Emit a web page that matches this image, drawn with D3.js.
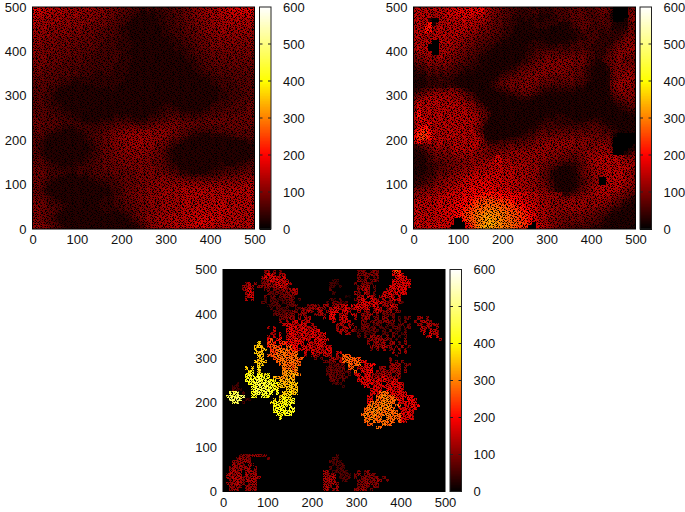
<!DOCTYPE html>
<html>
<head>
<meta charset="utf-8">
<script src="https://cdn.jsdelivr.net/npm/d3@7"></script>
<style>
  body { margin: 0; background: #fff; }
  text { font-family: "Liberation Sans", Arial, sans-serif; font-size: 13px; fill: #111; }
</style>
</head>
<body>
<div id="chart"></div>
<script>
// values, one char per cell, top row is y = 500
// base 36 digit * step gives the value, "." is empty, spaces only help counting
const ticks = [0, 100, 200, 300, 400, 500];
const barTicks = [0, 100, 200, 300, 400, 500, 600];
const paletteStops = [0, 200, 400, 600];
const paletteColors = ["#000000", "#ff0000", "#ffff00", "#ffffff"];

const gridA = [
"dcbbaa9a99 9889898787 7666555443 3434344455 5667788999 aabbccdcdc",
"cbbaa99a98 9898878777 6665554432 2323344455 5667788999 9aabbbcbcb",
"baa9a89898 8988787777 6655544331 1223334445 5667788899 9aaabababa",
"aa98989988 8878787766 6655443210 0122334445 5666778889 99aa9a9a9a",
"a989898888 7878776676 6554432100 0012334445 5566777889 999a9a9a99",
"9989888787 8777676665 5544321000 0001233444 5566677888 9899999899",
"9888878787 7776766655 5544332110 0012233444 5556677888 8989898988",
"9887877787 7676666555 4544332211 1112233344 4556667778 8888888888",
"8887777676 7666656555 4444332221 1111122334 4455666777 8787888878",
"8877777667 6666565554 4443333221 1000112333 4455566677 7787877787",
"8777676676 6656565544 4443333211 0000012233 3445566677 7777777777",
"8776776666 6565555544 4443332210 0000011233 3344556667 6777677767",
"8776767666 5655555444 4444332221 0000001122 3344555666 6667676776",
"7777666665 6555554444 4444333221 1100000112 2334455566 6666766766",
"7767666655 5555544444 4443333222 1100000011 2233445556 6566666666",
"7676665655 5554544444 4433332222 1110000001 1223345556 5656666666",
"6766565555 5454444444 4433332222 2110000000 1123344555 5556565656",
"6665655555 4544444334 4333332222 2111000000 0112334445 5555555656",
"6656555455 4444443333 4333322222 2111100000 0012233344 4555555555",
"6565555444 4333333333 3333322222 2211100000 0001122334 4444555555",
"5655555443 3223333333 3333222221 1111100000 0000112233 4444455555",
"5555544332 1112222333 3322222110 0111110000 0000011223 3444445555",
"5555443221 0001112222 2322221100 0001111000 0000001122 3344445555",
"5554432100 0000111222 2222211000 0000110000 0000000112 3334444555",
"5554432100 0000011112 2222210000 0000111100 0000000122 3334445555",
"5554433210 0000000112 2222210000 0001122211 0000001223 3444455556",
"5555433321 1000000011 2222110000 0012233322 1100112234 4444555566",
"5555444332 2110000001 1222211000 0122334433 2211223344 4455555566",
"5555544433 3211000001 1222222111 1223344444 3333334445 5555556666",
"6555554443 3321100112 2233333222 2334445555 4444445555 5566666666",
"6655555444 4332222233 3344444333 3445555666 5555555666 6666666666",
"6665555544 4443333344 4455555544 4556667776 6666656666 6656666666",
"6655554433 3344444445 5566667766 6677777777 6665555555 5566666665",
"5655443322 2233444455 6677787888 8888888776 5554444445 5555565555",
"5554322111 1223344556 6778888998 9988887766 5543322233 3344455555",
"5543211000 0122344556 6778899999 9988877655 4322211122 2222334445",
"5432100000 0012334556 6778889999 9888776544 3211000011 1111112233",
"5432100000 0001233456 6778888999 8887765432 1000000000 0000001122",
"5432100000 0001223456 6677888888 8877654321 0000000000 0000000112",
"5432100000 0012234456 6677788888 8776654321 0000000000 1000000112",
"5543211000 0112334456 6677777888 7776654321 0000000001 1100011223",
"5554322111 1223344556 6677777777 7766654321 0000000011 2211122334",
"6555433222 2333444556 6667777777 7766654432 1000000012 3322233445",
"6655444333 3344445556 6666677777 7776665443 2110001123 3344445555",
"6665544443 3344445555 5666666677 7777766554 3322222334 4455556666",
"6665544332 2233344455 5556666677 7777777665 5444444445 5566667777",
"6655433211 1122233444 4455666677 7777888777 7666666666 6777778888",
"6654321000 0011122333 4445566667 7788888888 8888888888 8888889999",
"6654210000 0000111223 3445566677 7788888899 9999999999 9999999aaa",
"6543210000 0000011122 2344566677 7888899999 aaaaaaaaaa 9a9aaaaaaa",
"6654321100 0000011122 2344566777 7888899999 aaaaaaaaaa aaaaaaaaaa",
"6655432211 1000111223 3345566777 8888999999 aaaaaaaaaa aaaaaaaaaa",
"7665543322 2111122233 3344566677 7888899999 aaaaaaaaab baaaaaaaaa",
"7766544433 2211122233 3344555667 7788899999 aaaaaabaab bbaaaaaaaa",
"7766554432 1110112233 3334455667 7788899999 aaaabbbbab bbbaaaaaaa",
"7766554321 0000011223 3223344567 7788899999 aaabbbbbbb babaaaaaaa",
"7766543210 0000001122 2112234567 7889999aaa aabbbbcbbb bbaaaaaaaa",
"7766543210 0000011221 1000123456 7889999aaa aabbbccccb bbaaaaaaaa",
"8776554321 0000112210 0000012345 6788999aaa aabbccccbb baaaaaaaaa",
"8877655432 1111222100 0000001234 6788999aaa aaabbbcbba aaaaaaaaaa"
];

const gridB = [
"9a9a9a9a9a bbcbccbcd9 8766544433 3434333344 4455554445 6654....56",
"9a9a989a9b bbcbccbcc9 8765544433 3344333344 4455555445 5653....66",
"a9a9a899ab ababbbaaa8 7665544333 3333222334 4455555444 5542....67",
"9a9a3..a9a 9aabaa9a98 7655443322 3232233334 3445555544 5543...067",
"9a9ae1999a 9a9a9a9887 6655443322 2233333332 2234555544 4544210156",
"a99ee99a9a a9a9a98877 6554433222 2223332111 2234455544 4443212366",
"9a9ed8a9a9 9a9a988776 6554433221 2222211100 1223344444 3343323466",
"9a9a89a9a9 9a98877665 5544332211 1122110000 0122334444 3333334566",
"9a989a9a98 9988776655 5443322111 1111210001 1122333444 3333345677",
"989a9..a9a 9887766554 4433221111 1233322112 2233444443 3333456777",
"8a9a...989 8877665544 3322111112 2333333334 3344444433 3334567778",
"8a9a...a98 8776655443 3221110011 2334444444 4444454433 3345677788",
"78989..898 8766554433 2211000112 3344555555 5555555443 3345677777",
"6778878987 7665544332 2100000122 3445566666 6666665543 3456677766",
"5667877787 6655443322 1100001123 3456667777 7776665432 2456676666",
"4556767676 5544433322 1110012234 4566677777 7776665432 1246676766",
"3445656565 5443333221 1111223345 5666777777 7766654321 0136677677",
"2334545454 4433222211 1122334456 6667777777 7666554321 0125677787",
"1223434344 3322211100 1123445566 6777776666 6665554321 0125678887",
"1123333433 3221100001 1234556666 7777666655 6665544321 0125678888",
"1122333333 3221000011 2345566667 7766655555 5554443210 0126788887",
"1123343334 3321000001 2344556677 7765544444 4444332110 0126778887",
"2345566667 7654320000 1233445566 6655433333 3333221100 0125678877",
"4567788888 8876543100 0112233445 5543322222 2222110000 0124567777",
"6789a98a99 8887654310 0011122233 3322111111 1111100000 0123456676",
"7a98a9a989 9988765421 0000011112 2111000011 1111000000 0112345566",
"8b9a9a9a9a 9a99887542 1000000011 1100000111 1110000000 0011234455",
"7ca9a9a9a9 a9a9987654 2100000000 0000001111 1111000001 1000123344",
"9da9a9a9a9 9a9a998765 4210000000 0000111222 1100000112 1100012233",
"ae9a9a9a9a a9a9a98875 3100000010 0001122233 3221111222 2110001122",
"9bca9a9a9a 9a9a9a9864 2000000100 0112233333 3332222333 3211000011",
"8a9bc9a9a9 a9a9a99863 1000001000 1122334433 3333334444 3322100000",
"7cdea8a9a9 9a9a998752 0000000000 1223444444 4444444455 4433210000",
"beffda9a9a a9a99a8742 0000000012 2334554555 5555555555 5444321000",
"cfgfea8a9a 9a9a99a862 1000011223 3445665666 6666666666 55541.....",
"dfgfdb9a9a a9a9a9a973 2112233344 4556776777 7777677766 6665......",
"ada9a89a89 9a9a9a9a85 3334444455 5667777888 8887777777 7765......",
"3456789898 9a9a9aa976 5555566666 6677888888 8887777777 8876.....1",
"2345678787 9a9a9a9887 6666667777 7788888887 7777767778 8887....12",
"2234567676 8989898776 6677778888 8888887777 7766677888 8988...135",
"1223456666 7788888877 77bb888888 8888887776 6655667889 a9a9a89668",
"1123455566 6777788888 89cb998888 8888777665 5554567899 a9a9a99887",
"1123344556 6677788899 9aba999999 8887766654 3333456889 9a9a9a9988",
"1122344556 6777889999 aaaaa9a999 9888765432 1122456789 9a9a9a9a98",
"1223345566 7788899aaa aabaaa9a99 9887654321 0112456789 89a9a9a987",
"2233445667 7889aaabbb bbbaaaa999 9887654321 0012356788 89a9a9a987",
"2334456778 889aabbbbb bbbbaaaa99 9887654310 0012345678 ..a9a9a987",
"3344567788 89aabbbccc cbbbbaaa99 9887765420 0012345678 ..9a9a9887",
"4456678889 9aabbccccc ccbbbaaa99 9887765421 0012356789 9a9a9a9877",
"6677788899 aabbccddcc ccbbbbaa99 9888776532 1123456789 9a9a998766",
"7788899aab bbbcccddee eeedddcccb baa9988877 3345677889 9a98877654",
"8899a9aabb bbccddeeff ffeeedddcb baa9988887 6677778889 9988766543",
"9a9a9aabbb bccddefggh hhgggfeddc bba9988888 8888888888 8877654432",
"9aa9aaabbb bcddefghhi iiihhggfed cbba998887 8888888888 7766543321",
"aa9aaabbbc ccdefghiij jjjiihggfe dcba998887 8888887776 6654332211",
"aaa9aaabbb cdefghijjk kkkjjihhgf edba998877 7777777665 5543221110",
"aaaaaaabbb cdefghijkl lkkjjihhgf fdca998877 6666666655 4432211100",
"aaaaaaabbb b..eghijkl mlkkjiihgf fdba988776 6666665554 4322111000",
"abaaaabbbb a...dghjkl mmlkjjiihg fe.ba98776 5555555444 3321110000",
"bbaabbbbba ....cfhjlm mlkkjjihgf f..ba98766 5544444433 3211000000"
];

const gridC = [
".......... ...67.6.5. .......... .......... ...565.565 ....cfc...",
".......... ...7a97.77 .......... .......... ...6565656 ....a9c9..",
".......... ..7a89a879 .......... .......... ...5.56.45 .....9a9a.",
".......... ..567a8a98 7......... .....33... ...656.564 ....a9a9a9",
".......68. 6.56767a98 a7........ ....332... ..5.5654.. ....9a8a9a",
"......7687 .6667678a8 6......... ....33.3.. ...5767.5. ...a9aa9a8",
"......68a7 ...55.5657 6787...... ....4..... ...6786.5. ..78a9a9a.",
".......7a8 ....544545 6577...... .....3.... ..75.86.5. .98a7a8a9.",
".......78a ...5.45.55 564....... .........2 1..78.986. 798a7.9...",
".......8.7 ...3.44334 455.4..... ....43.4.. ..57a9.a87 .8.7a89...",
".......... ..44.444.3 454....... ...4.55434 ...8a9a8a9 a7665.64..",
".......... ....33444. 4455...566 5.77.7788a .a9a8a97a8 .77a98....",
".......... .....4.443 4..4475676 866.89a78a 879a98a.7a 8.6868....",
".......... ......4444 4465.7686. 78.79aa.9a 7..8.76.78 7667.65...",
".......... ......4554 656.676..6 676.ba.7a8 .98.7577.6 .5545.....",
".......... ........55 676.7.78.. ..8.9a.8a9 ..7.576.65 .66.5.4.45 ..67.6....",
".......... ........6. 7.8a.978.. .....8.78a 8...65.565 56656.4.5. .6.7876...",
".......... .........8 a9878a9.7. ......787. 77..555.45 4.544.45.4 ..76.7876.",
".......... ....7.8... 8a9a8a9878 ......7.78 8.6.56545. 443.454.45 ...8786.7.",
".......... ......9... 9a98a9a8a8 a.....7887 .743444454 .4.5.43.4. ...78.986.",
".......... .....77.9. 7a9a8a98a8 98a....7.8 7..4.4335. .43.54.35. ....9.a78.",
".......... ....8.9.a. 89a87a98a9 a79....... ...4.5.767 6.6.5.4.4. .....7a.9.",
".......... ....ae.bc. ab9ca9a8.a 9a9a...... ......6767 6765.4..6. .........7",
".......... .k..dec.cd bab9a9.a89 a8a....... ......6.67 67.67.5.6.",
".......... jkj.cefed. efba.a9a87 a9898..... .......767 6876.6.7.5",
".......... k.jk.defgf geca9a98a8 987a9..... .......5.6 .7.56.7.6.",
".......... kjk..edfgg feff..9.a7 98a7a.89.. .......... ....7.6.7.",
".......... .kj.fefgfg fffg..8.78 6.887.8.ff e......... .....5....",
".......... .jk...efgg fgfgef...5 .5..7867ff gffe...... ...6......",
".......... kjkj...fgg fggff..... ..5456.8fg feffaa.... ...6.6.6..",
".......... .kk.....fg fffgf..... ....44545. gefg.9aba. ...6767.65",
".......k.k .l.......g fgeh...... ...454545. ef.8a9aa.. 67.6787.6.",
"........lm .k.......h higg...... ...4545454 5.f.a9ab.7 6767676.6.",
".......mnn .mmlm....h ihjig..... ...454545. 4.9a.9a876 7877.67...",
".......mnm nonnm.jihh ijh....... ....545454 ...9a9a878 8a87876...",
".......non opnonmm.ji jij....... ....454.4. ...9a9aa9a 9a87a9....",
"....3...mn opoopnnmkj ikjk...... .....343.. ....9a9a89 a.a9a9a8..",
"...33....o npponomkkj jkjj...... ........3. .....a9.9a 9a9a9a98..",
"...432...n ppoponnm.. kkjk...... .......... .......9a9 a.ba98a9..",
"..ppq.3..m opnoon.n.k kljk...... .......... .......9a9 fgf9a9a9a.",
".pqpqqr..n m.onm...km ll........ .......... ......a9.f ghgffa9aab a.........",
"..rqrq.32. ......l.lm mln....... .......... ......9a.f fghfgfba.b aa........",
"...pq.3... .....lmnlm mnn....... .......... ......afgf ghggf.a9aa ba........",
".......... ......mnmm nn........ .......... ......fggf hghg.fg.9a bab.......",
".......... ......nmnm .no....... .......... .....fgghg hghgf.a9a9 aa........",
".......... ......mnnm omn....... .......... .....fgghg hfgfgf.a9a 9.........",
".......... .......nmm on........ .......... ....fhgfhg fgghfgfa9a 8.........",
".......... ........m. .......... .......... .....gfhgf g.gfgffa9a 9.........",
".......... .......... .......... .......... .....fg.gf fgfgf.fa9.",
".......... .......... .......... .......... ......ef.. .gff......",
".......... .......... .......... .......... .........g f.........",
"", "", "", "", "", "", "",
"",
".....56566 7656...... .......... ......4...",
"....57665. ....5..... .......... .....43...",
"...666776. .......... .......... ....4343..",
"...7675.76 .......... .......... .....3434.",
"..6767677. 6......... .......... ....4.343.",
"..7867.777 6......... .......... ..77.34343 ...5.56...",
".78687.867 7......... .......... ..7667.434 3.56.5665.",
".768786768 77........ .......... ..8678.343 4.5.565656 .5........",
"..67876878 7......... .......... ..7787..34 ...5566567 6.5.......",
".767876.67 8......... .......... ..77686... ...5667656",
"..7676.767 6......... .......... ..786.7... ...5665.65",
"..677..676 7......... .......... ..78.67... ..6676.5.."
];

// fine black grain of the lattice, repeated over each map
// "#" black, "+" half dark, "." open
const grain = [
"##..+...#.+..##....+#...+##...+..#.+",
"#...+#....#+.+...#....#+.....#...+..",
"..#.....+...#.+##...+.#....#...##...",
"+.##..+....#...#.+....+.#+....+.#.#.",
"...#.#...+.##.+....#..+...##.......+",
"+......+#.+....#..+.#+.#...+.##...#.",
"#+..+.#.......#.+...#.....#.#....+..",
"..#......##..+.#..+...+##....+#.....",
"#...+#...#...+...#+.....#..#+..#..##",
"..+...#.+.+#.....+.#.+...#...+.#+...",
"#....##...#.+..#....+.#+..+#.....#..",
".#+....+#.....+#.+..#...#....+..#+.#",
"+...#.....+##.....+#.+....#+.....#..",
"#.#...+#.....#+...#...+#.....#.+...#",
"......+.#.#....+.....#+...#.#+.#..+.",
"#...+....+.#+..##.+.....+....#...+#.",
".#+...#.+#.+....#...#.+#.+...##.....",
"....+...#....#.#+..#...+..#.#+.....#",
"#..#..+.+#..+....+#.+......+...#.#..",
".+#.+.....+#.#+.....+..#+.#.+...+.+#",
"...+.#.+#.#..+...#......+#...#......",
".#.#.....+..+.#.+#.+..#....+#.+...##",
"+...+#.........+...#.#+.+#...#...+..",
"#+....+.+#.#.+.....#+.....+.#+.#....",
"..#.+#........#..+#.#.+..#.....+...#",
"#.....+.#..#+.#.+.....+#..+#.#...+..",
".#..+.....+#...+.#.#+....#+....+...#",
"+..#+..#...#.+#....+.+.#...+#.#.....",
"#..#.......+.#.+#..+#....+..#...#.+."
];

const panels = [
  { grid: gridA, left: 32.5, top: 7, size: 222, bar: 259.5, step: 14, floor: 30 },
  { grid: gridB, left: 413.5, top: 7, size: 222, bar: 640, step: 15, floor: 25 },
  { grid: gridC, left: 223, top: 269.5, size: 222, bar: 450, step: 18, floor: 0 },
];

const svg = d3
  .select("#chart")
  .append("svg")
  .attr("width", 685)
  .attr("height", 512);

const colorScale = d3.scaleLinear().domain(paletteStops).range(paletteColors);

const defs = svg.append("defs");

const pattern = defs
  .append("pattern")
  .attr("id", "grain")
  .attr("patternUnits", "userSpaceOnUse")
  .attr("width", grain[0].length)
  .attr("height", grain.length);

grain.forEach((row, r) => {
  row.split("").forEach((ch, c) => {
    if (ch === ".") return;
    pattern
      .append("rect")
      .attr("x", c)
      .attr("y", r)
      .attr("width", 1)
      .attr("height", 1)
      .attr("fill", "#000")
      .attr("fill-opacity", ch === "#" ? 1 : 0.5);
  });
});

// the reference is a resampled bitmap, slightly soft
defs
  .append("filter")
  .attr("id", "soft")
  .append("feGaussianBlur")
  .attr("stdDeviation", 0.4);

const drawPanel = (panel, index) => {
  const { left, top, size, bar, step, floor } = panel;
  const grid = panel.grid.map((row) => row.replace(/ /g, ""));
  const n = grid.length;
  const cell = 500 / n;

  const x = d3.scaleLinear().domain([0, 500]).range([left, left + size]);
  const y = d3.scaleLinear().domain([0, 500]).range([top + size, top]);
  const barY = d3.scaleLinear().domain([0, 600]).range([top + size, top]);

  const cells = [];
  grid.forEach((row, r) => {
    for (let c = 0; c < n; c++) {
      const ch = row[c];
      const value =
        !ch || ch === "." ? 0 : Math.max(parseInt(ch, 36) * step, floor);
      cells.push({ r, c, value });
    }
  });

  const g = svg.append("g");

  defs
    .append("clipPath")
    .attr("id", `clip${index}`)
    .append("rect")
    .attr("x", left)
    .attr("y", top)
    .attr("width", size)
    .attr("height", size);

  const map = g
    .append("g")
    .attr("clip-path", `url(#clip${index})`)
    .append("g")
    .attr("filter", "url(#soft)");

  map
    .selectAll("rect.cell")
    .data(cells)
    .join("rect")
    .attr("class", "cell")
    .attr("shape-rendering", "crispEdges")
    .attr("x", (d) => x(d.c * cell))
    .attr("y", (d) => y(500 - d.r * cell))
    .attr("width", x(cell) - x(0) + 0.5)
    .attr("height", y(0) - y(cell) + 0.5)
    .attr("fill", (d) => colorScale(d.value));

  map
    .append("rect")
    .attr("x", left)
    .attr("y", top)
    .attr("width", size)
    .attr("height", size)
    .attr("fill", "url(#grain)");

  g.append("rect")
    .attr("x", left)
    .attr("y", top)
    .attr("width", size)
    .attr("height", size)
    .attr("fill", "none")
    .attr("stroke", "#000");

  const xAxis = g
    .append("g")
    .attr("transform", `translate(0,${top + size})`)
    .call(d3.axisBottom(x).tickValues(ticks).tickSize(0).tickPadding(6));
  const yAxis = g
    .append("g")
    .attr("transform", `translate(${left},0)`)
    .call(d3.axisLeft(y).tickValues(ticks).tickSize(0).tickPadding(6));
  [xAxis, yAxis].forEach((a) => {
    a.select(".domain").remove();
    a.attr("font-family", null).attr("font-size", null);
  });

  // colorbar
  const barWidth = 11.5;
  g.selectAll("rect.bar")
    .data(d3.range(0, 600, 2))
    .join("rect")
    .attr("class", "bar")
    .attr("shape-rendering", "crispEdges")
    .attr("x", bar)
    .attr("y", (d) => barY(d + 2))
    .attr("width", barWidth)
    .attr("height", barY(0) - barY(2) + 0.5)
    .attr("fill", (d) => colorScale(d));

  g.append("rect")
    .attr("x", bar)
    .attr("y", top)
    .attr("width", barWidth)
    .attr("height", size)
    .attr("fill", "none")
    .attr("stroke", "#222");

  g.selectAll("path.bartick")
    .data(barTicks.slice(1, -1))
    .join("path")
    .attr("class", "bartick")
    .attr("stroke", "#222")
    .attr("fill", "none")
    .attr("d", (d) => `M${bar},${barY(d)}h3M${bar + barWidth},${barY(d)}h-3`);

  const barAxis = g
    .append("g")
    .attr("transform", `translate(${bar + barWidth},0)`)
    .call(d3.axisRight(barY).tickValues(barTicks).tickSize(0).tickPadding(12));
  barAxis.select(".domain").remove();
  barAxis.attr("font-family", null).attr("font-size", null);
};

panels.forEach(drawPanel);
</script>
</body>
</html>
